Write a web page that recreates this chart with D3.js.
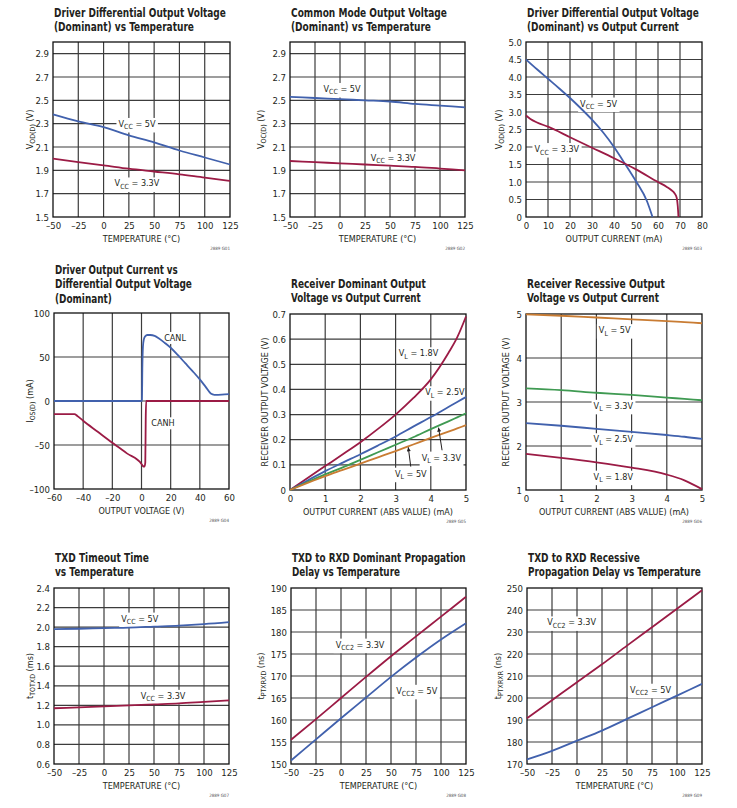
<!DOCTYPE html>
<html>
<head>
<meta charset="utf-8">
<script src="https://cdn.jsdelivr.net/npm/d3@7"></script>
<style>
body { margin: 0; background: #fff; }
svg { font-family: "Liberation Sans Narrow", "DejaVu Sans Condensed", "Liberation Sans", Arial, sans-serif; }
</style>
</head>
<body>
<svg id="chart" width="737" height="808"></svg>
<script>
// ---- data ----
var tempC = [-50, -25, 0, 25, 50, 75, 100, 125];

var g01Vcc5 = [2.38, 2.32, 2.27, 2.20, 2.14, 2.07, 2.01, 1.95];
var g01Vcc33 = [2.00, 1.97, 1.943, 1.914, 1.89, 1.866, 1.837, 1.81];

var g02Vcc5 = [2.53, 2.52, 2.51, 2.50, 2.49, 2.47, 2.455, 2.44];
var g02Vcc33 = [1.98, 1.97, 1.96, 1.95, 1.94, 1.93, 1.915, 1.90];

var g03Cur5 = [0, 5, 10, 15, 20, 25, 30, 35, 40, 45, 50, 55, 57.5];
var g03Vod5 = [4.5, 4.22, 3.95, 3.68, 3.4, 3.1, 2.78, 2.42, 2.0, 1.52, 1.02, 0.45, 0];
var g03Cur33 = [0, 2, 5, 10, 20, 30, 40, 50, 60, 64, 66, 67.5, 68.5, 69, 69.3];
var g03Vod33 = [2.9, 2.8, 2.7, 2.58, 2.28, 1.98, 1.68, 1.36, 1.0, 0.86, 0.77, 0.68, 0.55, 0.3, 0];

var g04CanlV = [-60, 0, 0.3, 0.6, 1, 1.6, 2.5, 4, 6, 9, 12, 16, 20, 25, 30, 35, 40, 44, 47.5, 50, 55, 60];
var g04CanlI = [0, 0, 1, 40, 62, 70, 73.5, 75, 75, 74, 71, 66, 60.5, 52, 43, 34, 24.5, 16, 8.5, 7, 7.2, 7.8];
var g04CanhV = [-60, -46, -44, -40, -30, -20, -10, 0, 1, 2, 2.6, 2.9, 3.2, 60];
var g04CanhI = [-15, -15, -17, -22.5, -35, -47.5, -59.5, -71.5, -74, -74.5, -70, -20, 0, 0];

var g05Cur = [0, 0.5, 1, 1.5, 2, 2.5, 3, 3.5, 4, 4.5, 4.75, 5];
var g05Vl18 = [0, 0.048, 0.095, 0.142, 0.19, 0.243, 0.30, 0.365, 0.44, 0.545, 0.607, 0.69];
var g05Vl25 = [0, 0.038, 0.075, 0.109, 0.142, 0.177, 0.213, 0.252, 0.29, 0.33, 0.35, 0.37];
var g05Vl33 = [0, 0.032, 0.062, 0.09, 0.12, 0.15, 0.18, 0.21, 0.242, 0.273, 0.289, 0.305];
var g05Vl5 = [0, 0.028, 0.055, 0.08, 0.105, 0.13, 0.155, 0.181, 0.207, 0.232, 0.245, 0.258];

var g06Cur = [0, 1, 2, 3, 4, 4.5, 5];
var g06Vl5 = [4.99, 4.96, 4.92, 4.88, 4.84, 4.815, 4.79];
var g06Vl33 = [3.31, 3.27, 3.21, 3.16, 3.10, 3.07, 3.04];
var g06Vl25 = [2.52, 2.46, 2.39, 2.32, 2.25, 2.21, 2.16];
var g06Vl18 = [1.82, 1.73, 1.63, 1.51, 1.35, 1.22, 1.02];

var g07Vcc5 = [1.98, 1.983, 1.99, 1.995, 2.005, 2.015, 2.03, 2.05];
var g07Vcc33 = [1.17, 1.18, 1.19, 1.20, 1.21, 1.22, 1.235, 1.25];

var g08Vcc33 = [155.5, 160.2, 165, 169.8, 174.5, 179, 183.5, 188];
var g08Vcc5 = [150.8, 155.6, 160.4, 165.1, 169.8, 174.2, 178.3, 182];

var g09Vcc33 = [190.8, 199, 207.2, 215.3, 223.8, 232.2, 240.6, 249];
var g09Vcc5 = [172.1, 176, 180.6, 185.2, 190.5, 195.8, 201.1, 206.4];

// tick values
var ticksVod = [1.5, 1.7, 1.9, 2.1, 2.3, 2.5, 2.7, 2.9];
var ticksVodCur = [0, 0.5, 1, 1.5, 2, 2.5, 3, 3.5, 4, 4.5, 5];
var ticksCur80 = [0, 10, 20, 30, 40, 50, 60, 70, 80];
var ticksVolt60 = [-60, -40, -20, 0, 20, 40, 60];
var ticksIos = [-100, -50, 0, 50, 100];
var ticksCur5 = [0, 1, 2, 3, 4, 5];
var ticksRxDom = [0, 0.1, 0.2, 0.3, 0.4, 0.5, 0.6, 0.7];
var ticksRxRec = [1, 2, 3, 4, 5];
var ticksTotxd = [0.6, 0.8, 1.0, 1.2, 1.4, 1.6, 1.8, 2.0, 2.2, 2.4];
var ticksDom = [150, 155, 160, 165, 170, 175, 180, 185, 190];
var ticksRec = [170, 180, 190, 200, 210, 220, 230, 240, 250];

// ---- drawing ----
var INK = '#231f20', GRID = '#3c3c3c';
var BLUE = '#4161ad', RED = '#9b1b45', GREEN = '#3f9a52', ORANGE = '#c97c33';

var svg = d3.select('#chart');
svg.append('defs').append('marker')
	.attr('id', 'arrow').attr('viewBox', '0 0 10 10').attr('refX', 10).attr('refY', 5)
	.attr('markerWidth', 7).attr('markerHeight', 4).attr('markerUnits', 'userSpaceOnUse').attr('orient', 'auto')
	.append('path').attr('d', 'M0,0L10,5L0,10z').attr('fill', INK);

var dash = function (d) { return d < 0 ? '\u2013' + Math.abs(d) : String(d); };
var fix1 = function (d) { return d.toFixed(1); };
var fix1z = function (d) { return d === 0 ? '0' : d.toFixed(1); };

// "V_{CC} = 5V" -> text with a subscript tspan
function rich(sel, str, fs) {
	var shift = fs * 0.28, down = false;
	str.split(/(_\{[^}]*\})/).filter(function (s) { return s.length; }).forEach(function (s) {
		if (s.indexOf('_{') === 0) {
			sel.append('tspan').attr('font-size', fs * 0.78).attr('dy', shift).text(s.slice(2, -1));
			down = true;
		} else {
			var t = sel.append('tspan').text(s);
			if (down) { t.attr('dy', -shift); down = false; }
		}
	});
}

function panel(p) {
	var right = p.left + p.width, bottom = p.top + p.height;
	var x = d3.scaleLinear().domain(p.xDomain).range([p.left, right]);
	var y = d3.scaleLinear().domain(p.yDomain).range([bottom, p.top]);
	var g = svg.append('g');

	// titles: squeeze horizontally to the condensed width of the original
	p.title.forEach(function (t, i) {
		var tt = g.append('text').attr('font-size', 13).attr('font-weight', 'bold').attr('fill', INK).text(t[0]);
		var k = t[1] / tt.node().getComputedTextLength();
		tt.attr('transform', 'translate(' + (p.left + 1) + ',' + (p.titleY + i * 14.5) + ') scale(' + k + ',1)');
	});

	var inX = p.xTicks.filter(function (d) { return d > p.xDomain[0] && d < p.xDomain[1]; });
	var inY = p.yTicks.filter(function (d) { return d > p.yDomain[0] && d < p.yDomain[1]; });
	var grid = g.append('g').attr('stroke', GRID).attr('stroke-width', 1.2);
	grid.selectAll('.gx').data(inX).join('line').attr('class', 'gx')
		.attr('x1', x).attr('x2', x).attr('y1', p.top).attr('y2', bottom);
	grid.selectAll('.gy').data(inY).join('line').attr('class', 'gy')
		.attr('y1', y).attr('y2', y).attr('x1', p.left).attr('x2', right);

	var boxes = g.append('g'), curves = g.append('g'), texts = g.append('g');

	g.insert('rect', function () { return curves.node(); })
		.attr('x', p.left).attr('y', p.top).attr('width', p.width).attr('height', p.height)
		.attr('fill', 'none').attr('stroke', '#111').attr('stroke-width', 1.3);

	var line = d3.line().x(function (d) { return x(d[0]); }).y(function (d) { return y(d[1]); }).curve(d3.curveMonotoneX);
	p.series.forEach(function (s) {
		curves.append('path').datum(d3.zip(s.x, s.y)).attr('d', line)
			.attr('fill', 'none').attr('stroke', s.color).attr('stroke-width', 1.8);
	});

	(p.labels || []).forEach(function (l) {
		var t = texts.append('text').attr('x', x(l.x)).attr('y', y(l.y) + 3.3)
			.attr('text-anchor', 'middle').attr('font-size', 9).attr('fill', INK);
		rich(t, l.text, 9);
		var b = t.node().getBBox();
		boxes.append('rect').attr('x', b.x - 2).attr('y', b.y - 1).attr('width', b.width + 4).attr('height', b.height + 2).attr('fill', '#fff');
	});

	(p.arrows || []).forEach(function (a) {
		texts.append('line').attr('x1', x(a[0])).attr('y1', y(a[1])).attr('x2', x(a[2])).attr('y2', y(a[3]))
			.attr('stroke', INK).attr('stroke-width', 1).attr('marker-end', 'url(#arrow)');
	});

	var ax = g.append('g').attr('transform', 'translate(0,' + bottom + ')')
		.call(d3.axisBottom(x).tickValues(p.xTicks).tickSize(0).tickPadding(5).tickFormat(p.xFmt || dash));
	var ay = g.append('g').attr('transform', 'translate(' + p.left + ',0)')
		.call(d3.axisLeft(y).tickValues(p.yTicks).tickSize(0).tickPadding(4).tickFormat(p.yFmt || dash));
	[ax, ay].forEach(function (a) {
		a.attr('font-family', null).attr('font-size', 9.5);
		a.select('.domain').remove();
		a.selectAll('text').attr('fill', INK);
	});

	g.append('text').attr('x', p.left + p.width / 2).attr('y', bottom + 25)
		.attr('text-anchor', 'middle').attr('font-size', 9).attr('fill', INK).text(p.xTitle);
	var yt = g.append('text').attr('transform', 'translate(' + p.yTitleX + ',' + (p.top + p.height / 2) + ') rotate(-90)')
		.attr('text-anchor', 'middle').attr('font-size', 9).attr('fill', INK);
	rich(yt, p.yTitle, 9);

	g.append('text').attr('x', right).attr('y', bottom + 32.5).attr('text-anchor', 'end')
		.attr('font-size', 4.5).attr('fill', '#555').text(p.code);
}

var T = 'TEMPERATURE (\u00b0C)';

panel({
	left: 53, top: 42, width: 177, height: 175, titleY: 16.5,
	title: [['Driver Differential Output Voltage', 172], ['(Dominant) vs Temperature', 140]],
	xDomain: [-50, 125], xTicks: tempC, yDomain: [1.5, 3.0], yTicks: ticksVod, yFmt: fix1,
	xTitle: T, yTitle: 'V_{OD(D)} (V)', yTitleX: 32.5, code: '2889 G01',
	series: [{ x: tempC, y: g01Vcc5, color: BLUE }, { x: tempC, y: g01Vcc33, color: RED }],
	labels: [{ x: 33, y: 2.3, text: 'V_{CC} = 5V' }, { x: 33, y: 1.79, text: 'V_{CC} = 3.3V' }]
});

panel({
	left: 290, top: 42, width: 175, height: 175, titleY: 16.5,
	title: [['Common Mode Output Voltage', 156], ['(Dominant) vs Temperature', 140]],
	xDomain: [-50, 125], xTicks: tempC, yDomain: [1.5, 3.0], yTicks: ticksVod, yFmt: fix1,
	xTitle: T, yTitle: 'V_{OC(D)} (V)', yTitleX: 263.5, code: '2889 G02',
	series: [{ x: tempC, y: g02Vcc5, color: BLUE }, { x: tempC, y: g02Vcc33, color: RED }],
	labels: [{ x: 2, y: 2.6, text: 'V_{CC} = 5V' }, { x: 53, y: 2.01, text: 'V_{CC} = 3.3V' }]
});

panel({
	left: 526, top: 42, width: 176, height: 175, titleY: 16.5,
	title: [['Driver Differential Output Voltage', 172], ['(Dominant) vs Output Current', 152]],
	xDomain: [0, 80], xTicks: ticksCur80, yDomain: [0, 5], yTicks: ticksVodCur, yFmt: fix1z,
	xTitle: 'OUTPUT CURRENT (mA)', yTitle: 'V_{OD(D)} (V)', yTitleX: 501.5, code: '2889 G03',
	series: [{ x: g03Cur5, y: g03Vod5, color: BLUE }, { x: g03Cur33, y: g03Vod33, color: RED }],
	labels: [{ x: 33, y: 3.25, text: 'V_{CC} = 5V' }, { x: 14, y: 1.95, text: 'V_{CC} = 3.3V' }]
});

panel({
	left: 54, top: 313, width: 175, height: 176, titleY: 273.5,
	title: [['Driver Output Current vs', 123], ['Differential Output Voltage', 137], ['(Dominant)', 57]],
	xDomain: [-60, 60], xTicks: ticksVolt60, yDomain: [-100, 100], yTicks: ticksIos,
	xTitle: 'OUTPUT VOLTAGE (V)', yTitle: 'I_{OS(D)} (mA)', yTitleX: 32.5, code: '2889 G04',
	series: [{ x: g04CanlV, y: g04CanlI, color: BLUE }, { x: g04CanhV, y: g04CanhI, color: RED }],
	labels: [{ x: 23, y: 72, text: 'CANL' }, { x: 14.7, y: -25, text: 'CANH' }]
});

panel({
	left: 290, top: 314, width: 176, height: 176, titleY: 287.5,
	title: [['Receiver Dominant Output', 135], ['Voltage vs Output Current', 130]],
	xDomain: [0, 5], xTicks: ticksCur5, yDomain: [0, 0.7], yTicks: ticksRxDom, yFmt: fix1z,
	xTitle: 'OUTPUT CURRENT (ABS VALUE) (mA)', yTitle: 'RECEIVER OUTPUT VOLTAGE (V)', yTitleX: 268, code: '2889 G05',
	series: [
		{ x: g05Cur, y: g05Vl18, color: RED }, { x: g05Cur, y: g05Vl25, color: BLUE },
		{ x: g05Cur, y: g05Vl33, color: GREEN }, { x: g05Cur, y: g05Vl5, color: ORANGE }],
	labels: [
		{ x: 3.65, y: 0.545, text: 'V_{L} = 1.8V' }, { x: 4.4, y: 0.39, text: 'V_{L} = 2.5V' },
		{ x: 4.3, y: 0.13, text: 'V_{L} = 3.3V' }, { x: 3.43, y: 0.066, text: 'V_{L} = 5V' }],
	arrows: [[4.32, 0.158, 4.22, 0.248], [3.43, 0.093, 3.36, 0.17]]
});

panel({
	left: 526, top: 314, width: 176, height: 176, titleY: 287.5,
	title: [['Receiver Recessive Output', 138], ['Voltage vs Output Current', 132]],
	xDomain: [0, 5], xTicks: ticksCur5, yDomain: [1, 5], yTicks: ticksRxRec,
	xTitle: 'OUTPUT CURRENT (ABS VALUE) (mA)', yTitle: 'RECEIVER OUTPUT VOLTAGE (V)', yTitleX: 509, code: '2889 G06',
	series: [
		{ x: g06Cur, y: g06Vl5, color: ORANGE }, { x: g06Cur, y: g06Vl33, color: GREEN },
		{ x: g06Cur, y: g06Vl25, color: BLUE }, { x: g06Cur, y: g06Vl18, color: RED }],
	labels: [
		{ x: 2.52, y: 4.64, text: 'V_{L} = 5V' }, { x: 2.48, y: 2.92, text: 'V_{L} = 3.3V' },
		{ x: 2.48, y: 2.16, text: 'V_{L} = 2.5V' }, { x: 2.48, y: 1.31, text: 'V_{L} = 1.8V' }]
});

panel({
	left: 54, top: 588, width: 175, height: 176, titleY: 561.5,
	title: [['TXD Timeout Time', 94], ['vs Temperature', 79]],
	xDomain: [-50, 125], xTicks: tempC, yDomain: [0.6, 2.4], yTicks: ticksTotxd, yFmt: fix1,
	xTitle: T, yTitle: 't_{TOTXD} (ms)', yTitleX: 32.5, code: '2889 G07',
	series: [{ x: tempC, y: g07Vcc5, color: BLUE }, { x: tempC, y: g07Vcc33, color: RED }],
	labels: [{ x: 35.7, y: 2.09, text: 'V_{CC} = 5V' }, { x: 59, y: 1.3, text: 'V_{CC} = 3.3V' }]
});

panel({
	left: 291, top: 588, width: 175, height: 176, titleY: 561.5,
	title: [['TXD to RXD Dominant Propagation', 174], ['Delay vs Temperature', 108]],
	xDomain: [-50, 125], xTicks: tempC, yDomain: [150, 190], yTicks: ticksDom,
	xTitle: T, yTitle: 't_{PTXRXD} (ns)', yTitleX: 263.5, code: '2889 G08',
	series: [{ x: tempC, y: g08Vcc33, color: RED }, { x: tempC, y: g08Vcc5, color: BLUE }],
	labels: [{ x: 19, y: 177.2, text: 'V_{CC2} = 3.3V' }, { x: 75.8, y: 166.7, text: 'V_{CC2} = 5V' }]
});

panel({
	left: 527, top: 588, width: 175, height: 176, titleY: 561.5,
	title: [['TXD to RXD Recessive', 112], ['Propagation Delay vs Temperature', 173]],
	xDomain: [-50, 125], xTicks: tempC, yDomain: [170, 250], yTicks: ticksRec,
	xTitle: T, yTitle: 't_{PTXRXR} (ns)', yTitleX: 500.5, code: '2889 G09',
	series: [{ x: tempC, y: g09Vcc33, color: RED }, { x: tempC, y: g09Vcc5, color: BLUE }],
	labels: [{ x: -5.4, y: 234.5, text: 'V_{CC2} = 3.3V' }, { x: 73.5, y: 203.9, text: 'V_{CC2} = 5V' }]
});
</script>
</body>
</html>
